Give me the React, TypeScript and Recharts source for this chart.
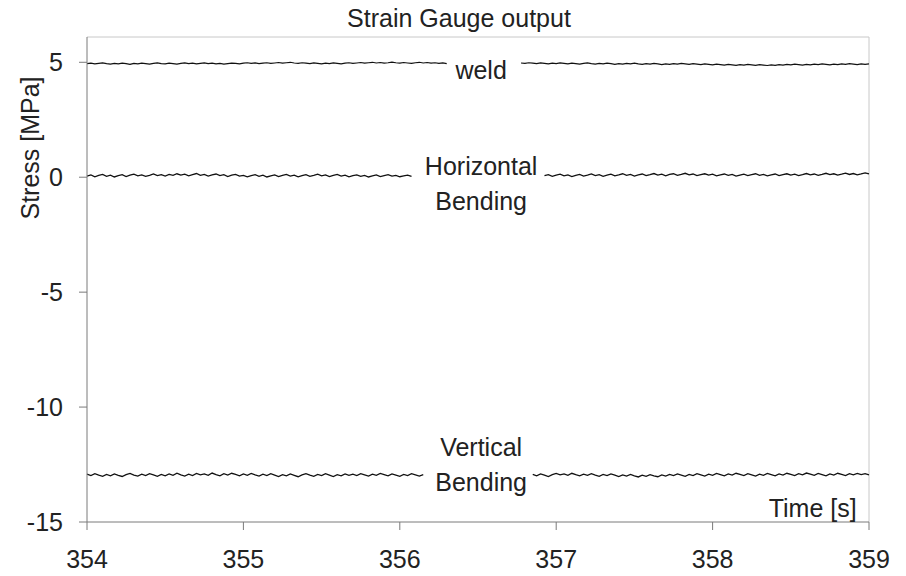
import React from 'react';
import { LineChart, Line, XAxis, YAxis, ReferenceLine, ReferenceDot } from 'recharts';

// sampling grid of the recorder (s)
const TIME_START = 354;
const TIME_STEP = 0.025;

const X_TICKS = [354, 355, 356, 357, 358, 359];
const Y_TICKS = [-15, -10, -5, 0, 5];
const Y_MIN = -15;
const Y_MAX = 6.1;

// stress traces, MPa (null = hidden behind the label)
const WELD = [
  4.94, 4.96, 4.93, 4.95, 4.97, 4.94, 4.92, 4.95, 4.93, 4.96,
  4.94, 4.91, 4.95, 4.93, 4.96, 4.94, 4.92, 4.95, 4.97, 4.94,
  4.93, 4.96, 4.94, 4.92, 4.95, 4.97, 4.94, 4.96, 4.93, 4.95,
  4.97, 4.94, 4.96, 4.93, 4.95, 4.92, 4.94, 4.96, 4.95, 4.93,
  4.96, 4.98, 4.95, 4.97, 4.94, 4.96, 4.98, 4.95, 4.97, 4.99,
  4.96, 4.98, 5.0, 4.97, 4.95, 4.98, 4.96, 4.94, 4.97, 4.95,
  4.93, 4.96, 4.94, 4.97, 4.95, 4.93, 4.96, 4.98, 4.95, 4.97,
  4.99, 4.96, 4.98, 5.0, 4.97, 4.99, 4.96, 4.98, 5.01, 4.98,
  4.96, 4.99, 4.97, 4.95, 4.98, 5.0, 4.97, 4.99, 4.96, 4.98,
  4.95, 4.97, 4.94,
  null, null, null, null, null, null, null, null, null, null,
  null, null, null, null, null, null, null, null,
  4.97, 4.95, 4.98, 4.96, 4.94, 4.97, 4.95, 4.93, 4.96,
  4.94, 4.97, 4.95, 4.93, 4.96, 4.94, 4.92, 4.95, 4.97, 4.94,
  4.92, 4.95, 4.93, 4.96, 4.94, 4.91, 4.94, 4.92, 4.95, 4.93,
  4.96, 4.93, 4.91, 4.94, 4.92, 4.95, 4.93, 4.9, 4.93, 4.91,
  4.94, 4.92, 4.95, 4.93, 4.91, 4.94, 4.92, 4.9, 4.93, 4.91,
  4.89, 4.92, 4.9, 4.88, 4.91, 4.89, 4.87, 4.9, 4.88, 4.91,
  4.89, 4.87, 4.9, 4.88, 4.86, 4.89, 4.87, 4.9, 4.88, 4.91,
  4.89, 4.92, 4.9, 4.88, 4.91, 4.89, 4.92, 4.9, 4.93, 4.91,
  4.89, 4.92, 4.9, 4.93, 4.91, 4.94, 4.92, 4.9, 4.93, 4.91, 4.93,
];

const HORIZONTAL = [
  0.05, 0.1, 0.02, 0.08, 0.12, 0.04, 0.09, 0.01, 0.07, 0.11,
  0.03, 0.09, 0.13, 0.06, 0.1, 0.04, 0.08, 0.14, 0.07, 0.11,
  0.05, 0.12, 0.08, 0.15, 0.09, 0.13, 0.06, 0.11, 0.16, 0.08,
  0.12, 0.05, 0.1, 0.14, 0.07, 0.11, 0.03, 0.09, 0.12, 0.05,
  0.08, 0.02, 0.07, 0.11, 0.04, 0.09, 0.01, 0.06, 0.1, 0.03,
  0.08, 0.12, 0.05, 0.09, 0.02, 0.07, 0.11, 0.04, 0.08, 0.13,
  0.06, 0.1, 0.03, 0.08, 0.12, 0.05, 0.09, 0.02, 0.07, 0.1,
  0.04, 0.08, 0.01, 0.06, 0.1, 0.03, 0.07, 0.11, 0.05, 0.08,
  0.02, 0.06, 0.09, 0.04,
  null, null, null, null, null, null, null, null, null, null,
  null, null, null, null, null, null, null, null, null, null,
  null, null, null, null, null, null, null, null, null, null,
  null, null, null,
  0.07, 0.11, 0.04,
  0.09, 0.13, 0.06, 0.1, 0.03, 0.08, 0.12, 0.05, 0.09, 0.14,
  0.07, 0.11, 0.04, 0.09, 0.13, 0.06, 0.1, 0.15, 0.08, 0.12,
  0.05, 0.1, 0.14, 0.07, 0.11, 0.16, 0.09, 0.13, 0.06, 0.12,
  0.15, 0.08, 0.12, 0.17, 0.1, 0.14, 0.07, 0.11, 0.15, 0.09,
  0.13, 0.06, 0.1, 0.14, 0.08, 0.12, 0.05, 0.09, 0.13, 0.07,
  0.11, 0.15, 0.08, 0.12, 0.06, 0.1, 0.14, 0.07, 0.11, 0.15,
  0.09, 0.13, 0.07, 0.11, 0.16, 0.1, 0.14, 0.08, 0.12, 0.17,
  0.11, 0.15, 0.09, 0.13, 0.18, 0.12, 0.16, 0.1, 0.14, 0.19, 0.15,
];

const VERTICAL = [
  -12.92, -12.98, -12.9, -12.96, -13.01, -12.93, -12.99, -12.91, -12.97, -13.02,
  -12.94, -12.89, -12.96, -13.0, -12.92, -12.98, -12.9, -12.95, -13.01, -12.93,
  -12.99, -12.91, -12.97, -12.88, -12.95, -13.0, -12.92, -12.98, -12.89, -12.95,
  -12.91, -12.97, -12.87, -12.94, -12.99, -12.9, -12.96, -12.88, -12.93, -12.99,
  -12.91, -12.97, -12.89, -12.95, -13.0, -12.92, -12.98, -12.9, -12.96, -13.02,
  -12.94, -12.99, -12.91, -12.97, -13.03, -12.95, -12.9, -12.96, -13.01, -12.93,
  -12.98, -12.9, -12.96, -13.02, -12.94, -12.99, -12.91, -12.97, -12.92, -12.98,
  -12.9, -12.95, -13.0, -12.92, -12.97, -12.89, -12.94, -12.99, -12.91, -12.96,
  -13.01, -12.93, -12.98, -12.9, -12.95, -13.0, -12.94,
  null, null, null, null, null, null, null, null, null, null,
  null, null, null, null, null, null, null, null, null, null,
  null, null, null, null, null, null, null,
  -12.93, -12.99, -12.91, -12.96, -13.02, -12.94,
  -12.89, -12.95, -12.91, -12.97, -12.88, -12.94, -12.99, -12.92, -12.97, -12.9,
  -12.96, -13.01, -12.93, -12.98, -12.91, -12.96, -13.02, -12.95, -13.0, -12.93,
  -12.99, -13.04, -12.96, -13.01, -12.94, -12.99, -13.03, -12.95, -13.0, -12.93,
  -12.98, -12.91, -12.96, -13.01, -12.93, -12.98, -12.9, -12.95, -13.0, -12.92,
  -12.97, -12.89, -12.94, -12.99, -12.91, -12.96, -12.88, -12.93, -12.98, -12.9,
  -12.95, -13.0, -12.92, -12.97, -12.89, -12.94, -12.99, -12.91, -12.96, -12.88,
  -12.93, -12.98, -12.9, -12.95, -12.87, -12.92, -12.97, -12.89, -12.94, -12.99,
  -12.91, -12.96, -12.88, -12.93, -12.98, -12.9, -12.95, -12.89, -12.94, -12.9, -12.95,
];

const data = WELD.map((w, i) => ({
  t: +(TIME_START + i * TIME_STEP).toFixed(3),
  weld: w,
  horizontal: HORIZONTAL[i],
  vertical: VERTICAL[i],
}));

const FONT = '"Liberation Sans", Arial, sans-serif';
const TEXT = '#222';
const AXIS = '#7a7a7a';
const FRAME = '#c8c8c8';

const lbl = (value: string) => ({ value, position: 'center' as const, fontSize: 25, fill: TEXT });

export default function App() {
  return (
    <div style={{ position: 'absolute', left: 0, top: 0, background: '#fff', fontFamily: FONT }}>
      <LineChart width={906} height={576} data={data} margin={{ top: 37, right: 37, left: 0, bottom: 0 }}>
        <XAxis
          dataKey="t"
          type="number"
          domain={[354, 359]}
          ticks={X_TICKS}
          height={54}
          tickSize={8}
          tickMargin={20}
          stroke={AXIS}
          tick={{ fill: TEXT, fontSize: 25 }}
        />
        <YAxis
          type="number"
          domain={[Y_MIN, Y_MAX]}
          ticks={Y_TICKS}
          allowDataOverflow
          width={87}
          tickSize={8}
          tickMargin={16}
          stroke={AXIS}
          tick={{ fill: TEXT, fontSize: 25 }}
        />
        <ReferenceLine y={Y_MAX} stroke={FRAME} />
        <ReferenceLine x={359} stroke={FRAME} />
        <Line dataKey="weld" stroke="#111" strokeWidth={1.2} dot={false} isAnimationActive={false} />
        <Line dataKey="horizontal" stroke="#111" strokeWidth={1.3} dot={false} isAnimationActive={false} />
        <Line dataKey="vertical" stroke="#111" strokeWidth={1.3} dot={false} isAnimationActive={false} />
        <ReferenceDot x={356.52} y={4.65} r={0} fill="none" stroke="none" label={lbl('weld')} />
        <ReferenceDot x={356.52} y={0.49} r={0} fill="none" stroke="none" label={lbl('Horizontal')} />
        <ReferenceDot x={356.52} y={-1.03} r={0} fill="none" stroke="none" label={lbl('Bending')} />
        <ReferenceDot x={356.52} y={-11.75} r={0} fill="none" stroke="none" label={lbl('Vertical')} />
        <ReferenceDot x={356.52} y={-13.27} r={0} fill="none" stroke="none" label={lbl('Bending')} />
        <ReferenceDot x={358.64} y={-14.4} r={0} fill="none" stroke="none" label={lbl('Time [s]')} />
        <text x={459} y={27} textAnchor="middle" fontSize={25} fill={TEXT}>
          Strain Gauge output
        </text>
        <text x={39} y={148} textAnchor="middle" fontSize={25} fill={TEXT} transform="rotate(-90 39 148)">
          Stress [MPa]
        </text>
      </LineChart>
    </div>
  );
}
